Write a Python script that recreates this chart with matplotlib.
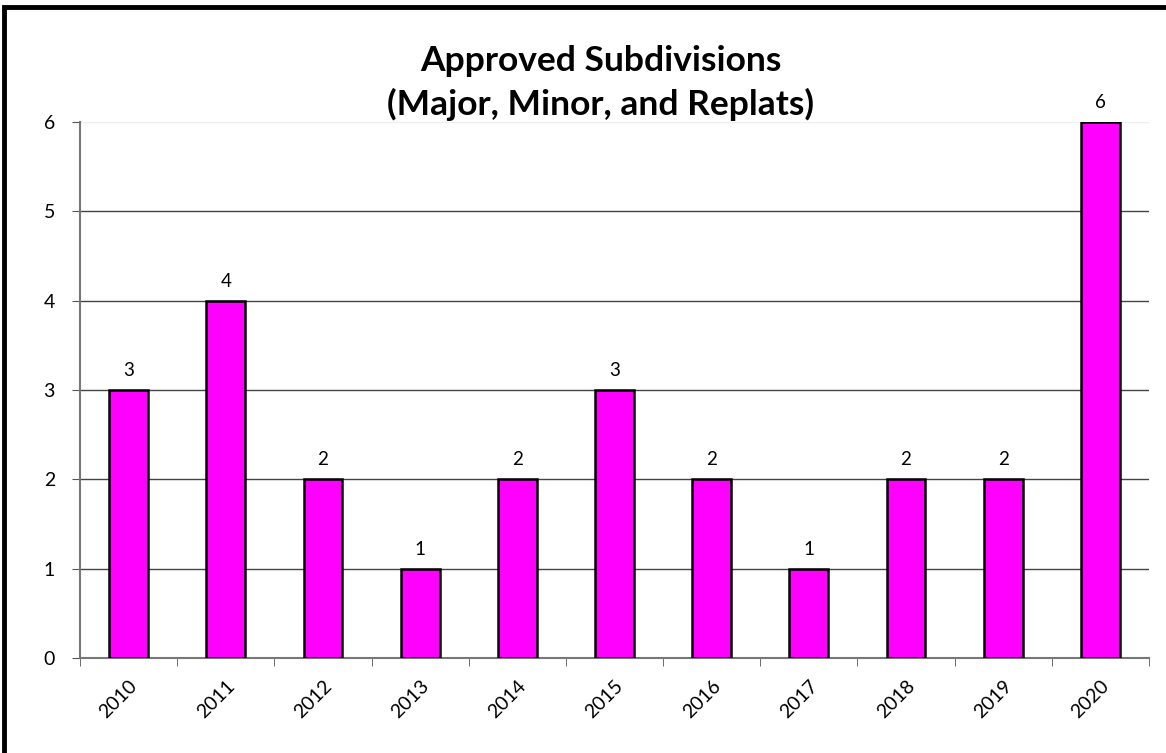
import numpy as np
import matplotlib.pyplot as plt
from matplotlib.patches import Rectangle

years = ["2010", "2011", "2012", "2013", "2014", "2015",
         "2016", "2017", "2018", "2019", "2020"]
counts = [3, 4, 2, 1, 2, 3, 2, 1, 2, 2, 6]
y_ticks = [0, 1, 2, 3, 4, 5, 6]

plt.rcParams["font.family"] = ["Lato", "DejaVu Sans"]

fig = plt.figure(figsize=(11.66, 7.53), dpi=100)
ax = fig.add_axes([0.0686, 0.1262, 0.9168, 0.7118])

x = np.arange(len(years))
bars = ax.bar(x, counts, width=0.4, color="#FF00FF",
              edgecolor="black", linewidth=1.8, zorder=3)

for xi, v in zip(x, counts):
    ax.annotate(str(v), (xi, v), xytext=(0, 8), textcoords="offset points",
                ha="center", va="bottom", fontsize=13.5, color="black")

# =====================================================
# AXES
# =====================================================

ax.set_xlim(-0.5, len(years) - 0.5)
ax.set_ylim(0, 6)
ax.set_yticks(y_ticks)
ax.set_yticklabels([str(t) for t in y_ticks], fontsize=14)

ax.set_xticks(x)
ax.set_xticklabels(years, rotation=45, ha="right",
                   rotation_mode="anchor", fontsize=14)
ax.set_xticks(np.arange(-0.5, len(years)), minor=True)
ax.tick_params(axis="x", which="major", length=0, pad=14)
ax.tick_params(axis="x", which="minor", length=6, color="#555555")
ax.tick_params(axis="y", length=6, color="#555555", pad=12)

ax.yaxis.grid(True, color="#444444", linewidth=1.0, zorder=0)
ax.set_axisbelow(True)
gl = ax.get_ygridlines()
gl[-1].set_color("#eeeeee")

for s in ["top", "right"]:
    ax.spines[s].set_visible(False)
for s in ["left", "bottom"]:
    ax.spines[s].set_color("#777777")
    ax.spines[s].set_linewidth(1.5)

fig.text(0.515, 0.89, "Approved Subdivisions\n(Major, Minor, and Replats)",
         ha="center", va="center", fontsize=25.5, fontweight="bold",
         linespacing=1.4)

# border (only left and top fall inside the image)
fig.patches.append(Rectangle((4 / 1166, -0.1), 1.2, 1.1 - 7 / 753,
                             transform=fig.transFigure, fill=False,
                             edgecolor="black", linewidth=3.5))

fig.savefig("out.png", dpi=100)
